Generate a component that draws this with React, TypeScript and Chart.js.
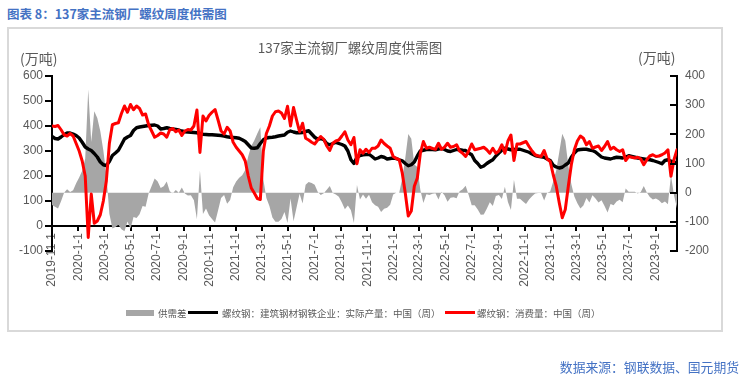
import React, { useEffect, useRef } from "react";
import { Chart, registerables } from "chart.js";

Chart.register(...registerables);

// Weekly data, first week 2019-11-01, one point every 7 days
const START = { y: 2019, m: 11, d: 1 };

const tickLabels = [
  "2019-11-1", "2020-1-1", "2020-3-1", "2020-5-1", "2020-7-1", "2020-9-1", "2020-11-1",
  "2021-1-1", "2021-3-1", "2021-5-1", "2021-7-1", "2021-9-1", "2021-11-1",
  "2022-1-1", "2022-3-1", "2022-5-1", "2022-7-1", "2022-9-1", "2022-11-1",
  "2023-1-1", "2023-3-1", "2023-5-1", "2023-7-1", "2023-9-1",
];

// 螺纹钢：建筑钢材钢铁企业：实际产量：中国（周）  (万吨, left axis)
const production = [
  358, 350, 348, 356, 365, 372, 372, 368, 362, 352,
  335, 316, 308, 302, 290, 276, 256, 245, 242, 258,
  282, 292, 303, 325, 348, 356, 362, 382, 393, 396,
  398, 400, 402, 403, 404, 400, 388, 390, 393, 390,
  388, 386, 384, 380, 377, 376, 375, 374, 373, 370,
  367, 366, 365, 365, 364, 363, 362, 360, 357, 355,
  354, 353, 351, 345, 338, 325, 312, 311, 313, 330,
  345, 352, 354, 355, 357, 360, 362, 364, 375, 380,
  376, 373, 373, 374, 378, 381, 368, 355, 347, 350,
  345, 330, 325, 330, 334, 330, 326, 320, 300, 265,
  250, 275, 282, 285, 286, 287, 278, 268, 272, 278,
  275, 268, 270, 272, 270, 265, 261, 250, 241, 245,
  256, 280, 300, 303, 306, 307, 306, 305, 308, 310,
  306, 300, 298, 302, 306, 305, 303, 302, 292, 285,
  262, 250, 235, 240, 250, 258, 265, 280, 292, 303,
  311, 308, 305, 306, 307, 307, 303, 299, 295, 288,
  282, 279, 277, 275, 268, 262, 243, 236, 232, 235,
  244, 252, 275, 292, 304, 306, 307, 307, 304, 302,
  296, 286, 276, 272, 270, 268, 272, 275, 274, 272,
  276, 281, 278, 275, 272, 270, 268, 266, 265, 262,
  258, 254, 249, 262, 265, 259, 256, 252,
];

// 螺纹钢：消费量：中国（周）  (万吨, left axis)
const consumption = [
  400, 398, 402, 385, 365, 360, 370, 360, 330, 300,
  260, 200, -46, 128, 11, 20, 45, 100, 180, 330,
  405, 410, 413, 450, 480, 455, 486, 465, 480, 470,
  444, 448, 405, 380, 355, 362, 372, 368, 355, 385,
  390, 377, 384, 362, 380, 386, 384, 400, 464, 294,
  440, 420, 442, 455, 466, 424, 380, 368, 395, 380,
  335, 315, 300, 285, 260, 200, 152, 132, 110, 106,
  300, 370, 400, 440, 457, 460, 452, 430, 479, 400,
  474, 424, 377, 411, 351, 344, 335, 328, 344, 358,
  347, 320, 302, 331, 340, 344, 360, 377, 344, 325,
  354, 249, 305, 291, 307, 294, 311, 311, 320, 344,
  330, 320, 311, 278, 270, 265, 212, 132, 40, 60,
  159, 192, 291, 338, 311, 315, 310, 307, 331, 307,
  315, 331, 315, 318, 325, 300, 291, 278, 300, 328,
  305, 308, 311, 315, 305, 291, 311, 291, 300, 325,
  291, 340, 364, 262, 328, 328, 333, 338, 318, 300,
  285, 280, 278, 302, 268, 258, 205, 160, 93, 33,
  66, 159, 245, 305, 340, 360, 351, 325, 338, 311,
  316, 320, 302, 318, 338, 307, 315, 305, 298, 305,
  262, 278, 275, 272, 275, 268, 245, 265, 280, 285,
  278, 280, 285, 292, 305, 199, 265, 305,
];

// 供需差  (万吨, right axis)
const gap = [
  -42, -48, -54, -29, 0, 12, 2, 8, 32, 52,
  75, 116, 354, 174, 279, 256, 211, 145, 62, -72,
  -123, -118, -110, -125, -132, -99, -124, -83, -87, -74,
  -46, -48, -3, 23, 49, 38, 16, 22, 38, 5,
  -2, 9, 0, 18, -3, -10, -9, -26, -91, 76,
  -73, -54, -77, -90, -102, -61, -18, -8, -38, -25,
  19, 38, 51, 60, 78, 125, 160, 179, 203, 224,
  45, -18, -46, -85, -100, -100, -90, -66, -104, -20,
  -98, -51, -4, -37, 27, 37, 33, 27, 3, -8,
  -2, 10, 23, -1, -6, -14, -34, -57, -44, -60,
  -104, 26, -23, -6, -21, -7, -33, -43, -48, -66,
  -55, -52, -41, -6, 0, 0, 49, 118, 201, 185,
  97, 88, 9, -35, -5, -8, -4, -2, -23, 3,
  -9, -31, -17, -16, -19, 5, 12, 24, -8, -43,
  -43, -58, -76, -75, -55, -33, -46, -11, -8, -22,
  20, -32, -59, 44, -21, -21, -30, -39, -23, -12,
  -3, -1, -1, -27, 0, 4, 38, 76, 139, 202,
  178, 93, 30, -13, -36, -54, -44, -18, -34, -9,
  -20, -34, -26, -46, -68, -39, -43, -30, -24, -33,
  14, 3, 3, 3, -3, 2, 23, 1, -15, -23,
  -20, -26, -36, -30, -40, 60, -9, -53,
];

const leftTicks = [-100, 0, 100, 200, 300, 400, 500, 600];
const rightTicksVals = [-200, -100, 0, 100, 200, 300, 400];

const seriesNames = [
  "供需差",
  "螺纹钢：建筑钢材钢铁企业：实际产量：中国（周）",
  "螺纹钢：消费量：中国（周）",
];

const NUM_FONT = "'Liberation Sans', Arial, 'Noto Sans CJK SC', sans-serif";
const CJK_FONT = "'Noto Sans CJK SC', 'Liberation Sans', sans-serif";
const TEXT_GRAY = "#595959";
const BLUE = "#4472C4";

const rightTickMarks = {
  id: "rightTickMarks",
  afterDraw(chart: any) {
    const s = chart.scales.y1;
    const ctx = chart.ctx;
    ctx.save();
    ctx.strokeStyle = "#000";
    ctx.lineWidth = 2;
    s.ticks.forEach((t: any) => {
      const y = Math.round(s.getPixelForValue(t.value));
      ctx.beginPath();
      ctx.moveTo(s.left - 7, y);
      ctx.lineTo(s.left + 1, y);
      ctx.stroke();
    });
    ctx.restore();
  },
};

export default function App() {
  const ref = useRef<HTMLCanvasElement>(null);

  useEffect(() => {
    const base = Date.UTC(START.y, START.m - 1, START.d);
    const dayOf = (s: string) => {
      const [y, m, d] = s.split("-").map(Number);
      return Math.round((Date.UTC(y, m - 1, d) - base) / 86400000);
    };
    const tickDays = tickLabels.map(dayOf);
    const labelByDay: Record<number, string> = {};
    tickDays.forEach((d, i) => (labelByDay[d] = tickLabels[i]));
    const toPts = (arr: number[]) => arr.map((v, i) => ({ x: i * 7, y: v }));
    const lastDay = (production.length - 1) * 7;

    const chart = new Chart(ref.current as HTMLCanvasElement, {
      type: "line",
      data: {
        datasets: [
          {
            label: seriesNames[0],
            data: toPts(gap),
            yAxisID: "y1",
            borderWidth: 0,
            borderColor: "rgba(0,0,0,0)",
            backgroundColor: "#A6A6A6",
            fill: "origin",
            pointRadius: 0,
            order: 3,
          },
          {
            label: seriesNames[1],
            data: toPts(production),
            yAxisID: "y",
            borderColor: "#000000",
            borderWidth: 3.4,
            borderJoinStyle: "round",
            borderCapStyle: "round",
            pointRadius: 0,
            fill: false,
            order: 2,
          },
          {
            label: seriesNames[2],
            data: toPts(consumption),
            yAxisID: "y",
            borderColor: "#FF0000",
            borderWidth: 3,
            borderJoinStyle: "round",
            borderCapStyle: "round",
            pointRadius: 0,
            fill: false,
            order: 1,
          },
        ],
      } as any,
      options: {
        animation: false,
        responsive: false,
        events: [],
        layout: { padding: { left: 8, right: 18, top: 76, bottom: 129 } },
        plugins: {
          legend: { display: false },
          title: { display: false },
          tooltip: { enabled: false },
        },
        scales: {
          x: {
            type: "linear",
            position: { y: 0 } as any,
            min: 0,
            max: lastDay,
            afterBuildTicks: (s: any) => {
              s.ticks = tickDays.map((v) => ({ value: v }));
            },
            ticks: {
              autoSkip: false,
              minRotation: 90,
              maxRotation: 90,
              padding: 3,
              color: TEXT_GRAY,
              font: { family: NUM_FONT, size: 12 },
              callback: (v: any) => labelByDay[v] ?? "",
            },
            grid: {
              display: true,
              drawOnChartArea: false,
              drawTicks: true,
              tickLength: 4,
              color: "#000",
              lineWidth: 2,
            },
            border: { display: true, color: "#000", width: 2 },
          },
          y: {
            position: "left",
            min: leftTicks[0],
            max: leftTicks[leftTicks.length - 1],
            afterBuildTicks: (s: any) => {
              s.ticks = leftTicks.map((v) => ({ value: v }));
            },
            afterFit: (s: any) => {
              s.width = 44;
            },
            ticks: {
              padding: 2,
              color: TEXT_GRAY,
              font: { family: NUM_FONT, size: 12 },
            },
            grid: {
              drawOnChartArea: false,
              drawTicks: true,
              tickLength: 7,
              color: "#000",
              lineWidth: 2,
            },
            border: { display: true, color: "#000", width: 2 },
          },
          y1: {
            position: "right",
            min: rightTicksVals[0],
            max: rightTicksVals[rightTicksVals.length - 1],
            afterBuildTicks: (s: any) => {
              s.ticks = rightTicksVals.map((v) => ({ value: v }));
            },
            afterFit: (s: any) => {
              s.width = 50;
            },
            ticks: {
              padding: 8,
              color: TEXT_GRAY,
              font: { family: NUM_FONT, size: 12 },
            },
            grid: {
              drawOnChartArea: false,
              drawTicks: false,
              tickLength: 0,
            },
            border: { display: true, color: "#000", width: 2 },
          },
        },
      } as any,
      plugins: [rightTickMarks],
    });
    return () => chart.destroy();
  }, []);

  const abs = (s: React.CSSProperties): React.CSSProperties => ({
    position: "absolute",
    whiteSpace: "nowrap",
    ...s,
  });

  const legendText: React.CSSProperties = {
    fontFamily: CJK_FONT,
    fontSize: 9.5,
    color: TEXT_GRAY,
    lineHeight: "12px",
  };

  return (
    <div
      style={{
        position: "fixed",
        left: 0,
        top: 0,
        width: 745,
        height: 380,
        background: "#fff",
        overflow: "hidden",
      }}
    >
      <div
        style={abs({
          left: 7,
          top: 5,
          fontFamily: CJK_FONT,
          fontWeight: "bold",
          fontSize: 12.5,
          lineHeight: "18px",
          color: BLUE,
        })}
      >
        图表 8：137家主流钢厂螺纹周度供需图
      </div>
      <div
        style={abs({
          left: 7,
          top: 27,
          width: 716,
          height: 305,
          border: "2px solid #D9D9D9",
          boxSizing: "border-box",
        })}
      />
      <canvas
        ref={ref}
        width={745}
        height={380}
        style={{ position: "absolute", left: 0, top: 0, width: 745, height: 380 }}
      />
      <div
        style={abs({
          left: 150,
          width: 400,
          top: 38,
          textAlign: "center",
          fontFamily: CJK_FONT,
          fontSize: 13.5,
          lineHeight: "18px",
          color: TEXT_GRAY,
        })}
      >
        137家主流钢厂螺纹周度供需图
      </div>
      <div
        style={abs({
          left: 20,
          top: 49,
          fontFamily: CJK_FONT,
          fontSize: 14,
          lineHeight: "18px",
          color: TEXT_GRAY,
        })}
      >
        (万吨)
      </div>
      <div
        style={abs({
          left: 638,
          top: 48,
          fontFamily: CJK_FONT,
          fontSize: 14,
          lineHeight: "18px",
          color: TEXT_GRAY,
        })}
      >
        (万吨)
      </div>

      {/* legend */}
      <div style={abs({ left: 126, top: 310, width: 28, height: 6, background: "#A6A6A6" })} />
      <div style={abs({ left: 158, top: 307, ...legendText })}>{seriesNames[0]}</div>
      <div style={abs({ left: 188, top: 311, width: 30, height: 3, background: "#000" })} />
      <div style={abs({ left: 222, top: 307, ...legendText })}>{seriesNames[1]}</div>
      <div style={abs({ left: 445, top: 311, width: 30, height: 3, background: "#FF0000" })} />
      <div style={abs({ left: 477, top: 307, ...legendText })}>{seriesNames[2]}</div>

      <div
        style={abs({
          right: 6,
          top: 358,
          fontFamily: CJK_FONT,
          fontSize: 12.8,
          lineHeight: "18px",
          color: BLUE,
        })}
      >
        数据来源：钢联数据、国元期货
      </div>
    </div>
  );
}
